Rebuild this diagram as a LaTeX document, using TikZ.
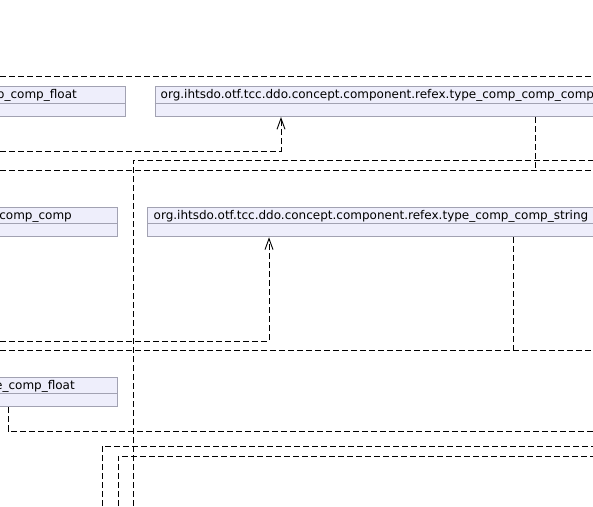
\documentclass[tikz,border=0pt]{standalone}
\usepackage{fontspec}
\setmainfont{DejaVu Sans}
\usetikzlibrary{arrows.meta,calc}
\definecolor{boxfill}{HTML}{EEEEFB}
\definecolor{boxdraw}{HTML}{A2A2B2}
\tikzset{
  classbox/.style={draw=boxdraw, fill=boxfill, line width=1pt, rectangle, inner sep=0pt, anchor=north west},
  divider/.style={draw=boxdraw, line width=1pt},
  lbl/.style={font=\fontsize{12pt}{14pt}\selectfont, inner sep=0pt, text=black},
  link/.style={draw=black, line width=0.9pt, dash pattern=on 6pt off 3pt},
  dep/.style={link, -{Straight Barb[length=11pt,width=8pt,line width=0.9pt]}}
}
\begin{document}
\begin{tikzpicture}[x=1pt,y=-1pt]
\useasboundingbox (0,0) rectangle (593,506);
\clip (0,0) rectangle (593,506);
\fill[white] (0,0) rectangle (593,506);
% boxes
\node[classbox, minimum width=135pt, minimum height=30pt] (b1) at (-10,86) {};
\draw[divider] ($(b1.north west)+(0,17)$) -- ($(b1.north east)+(0,17)$);
\node[classbox, minimum width=470pt, minimum height=30pt] (b2) at (154.5,86) {};
\draw[divider] ($(b2.north west)+(0,17)$) -- ($(b2.north east)+(0,17)$);
\node[classbox, minimum width=127.3pt, minimum height=29.6pt] (b3) at (-10,206.7) {};
\draw[divider] ($(b3.north west)+(0,16.7)$) -- ($(b3.north east)+(0,16.7)$);
\node[classbox, minimum width=480pt, minimum height=29.6pt] (b4) at (147.3,206.7) {};
\draw[divider] ($(b4.north west)+(0,16.7)$) -- ($(b4.north east)+(0,16.7)$);
\node[classbox, minimum width=127.3pt, minimum height=29.6pt] (b5) at (-10,376.7) {};
\draw[divider] ($(b5.north west)+(0,16.7)$) -- ($(b5.north east)+(0,16.7)$);
% labels
\node[lbl, anchor=base east] (t1) at (77,98.5) {p\_comp\_float};
\node[lbl, anchor=base west] (t2) at (160.5,98.5) {org.ihtsdo.otf.tcc.ddo.concept.component.refex.type\_comp\_comp\_comp};
\node[lbl, anchor=base east] (t3) at (72,219) {comp\_comp};
\node[lbl, anchor=base west] (t4) at (153.5,219) {org.ihtsdo.otf.tcc.ddo.concept.component.refex.type\_comp\_comp\_string};
\node[lbl, anchor=base east] (t5) at (75,389) {e\_comp\_float};
% free ends
\coordinate (l0a) at (0,76);    \coordinate (l0b) at (593,76);
\coordinate (l1a) at (0,151);   \coordinate (l1t) at (281,116);
\coordinate (l2a) at (133,506); \coordinate (l2b) at (593,160);
\coordinate (l3a) at (0,170);   \coordinate (l3b) at (593,170);
\coordinate (l3s) at (535.5,116);
\coordinate (l4a) at (0,341);   \coordinate (l4t) at (269,236.3);
\coordinate (l5a) at (0,350);   \coordinate (l5b) at (593,350);
\coordinate (l5s) at (513.3,236.3);
\coordinate (l6s) at (8,406.3); \coordinate (l6b) at (593,431);
\coordinate (l7a) at (102,506); \coordinate (l7b) at (593,446);
\coordinate (l8a) at (118,506); \coordinate (l8b) at (593,456);
% connectors
\draw[link] (l0a) -- (l0b);
\draw[dep] (l1a) -| (b2.south -| l1t);
\draw[link] (l2a) |- (l2b);
\draw[link] (l3a) -- (l3b);
\draw[link] (b2.south -| l3s) -- (l3s |- l3b);
\draw[dep] (l4a) -| (b4.south -| l4t);
\draw[link] (l5a) -- (l5b);
\draw[link] (b4.south -| l5s) -- (l5s |- l5b);
\draw[link] (b5.south -| l6s) |- (l6b);
\draw[link] (l7a) |- (l7b);
\draw[link] (l8a) |- (l8b);
\end{tikzpicture}
\end{document}
